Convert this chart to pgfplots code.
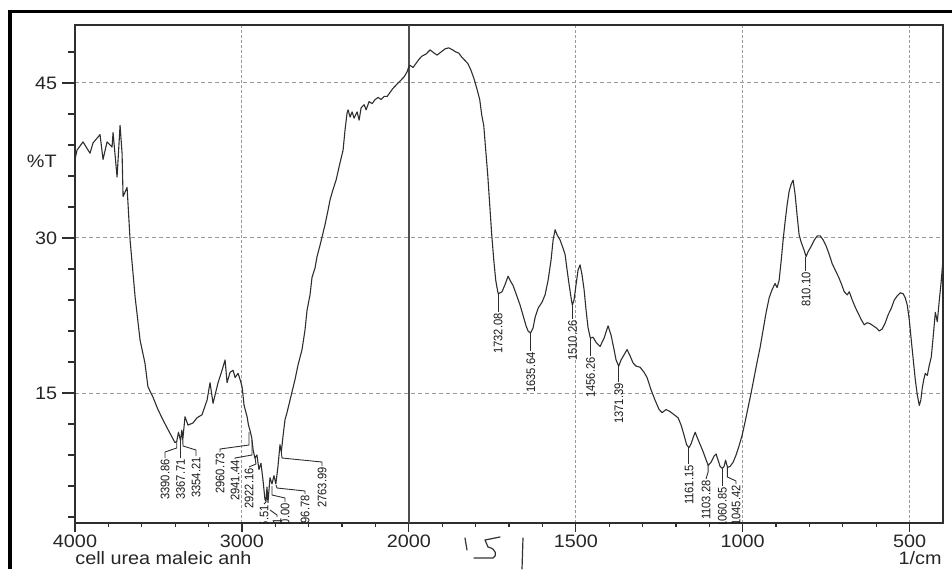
\documentclass[border=0pt]{standalone}
\usepackage{fontspec}
\setmainfont{Liberation Sans}
\newfontfamily\tickfont[FakeStretch=1.1]{Liberation Sans}
\newfontfamily\pkfont[FakeStretch=0.9]{Liberation Sans}
\usepackage{pgfplots}
\pgfplotsset{compat=1.18}
\usepackage{pgfplotstable}
\definecolor{ink}{HTML}{2E2E2E}
\definecolor{gridc}{HTML}{9A9A9A}

% IR spectrum, wavenumber (1/cm) vs %T
\pgfplotstableread{
wn T
4000 37.6
3988 38.5
3952 39.3
3910 38.2
3892 39.2
3850 40.0
3832 37.6
3808 39.3
3778 38.8
3772 40.2
3748 35.9
3730 40.9
3718 38.2
3712 34.0
3688 34.9
3670 29.8
3640 24.3
3610 20.1
3581 17.9
3563 15.6
3533 14.6
3503 13.4
3473 12.4
3431 11.1
3401 10.2
3390.86 10.3
3380 11.2
3367.71 10.4
3360 11.4
3354.21 10.5
3341 12.7
3323 11.9
3293 12.1
3269 12.6
3239 12.9
3209 14.3
3191 16.0
3173 14.0
3161 14.8
3143 16.0
3119 17.2
3101 18.2
3089 16.0
3071 17.0
3053 17.2
3041 16.5
3023 16.9
3011 16.3
2999 15.6
2987 13.8
2969 12.7
2960.73 11.9
2952 11.4
2941.44 10.7
2933 9.5
2922.16 8.7
2910 9.0
2898 7.6
2886 8.2
2874 6.6
2862 4.7
2855.51 4.5
2850 5.9
2844 4.4
2832 6.8
2820 6.2
2808 7.0
2796.78 6.2
2784 7.9
2772 10.0
2763.99 9.3
2754 10.8
2742 12.4
2730 13.1
2712 14.3
2694 15.5
2682 16.3
2664 17.7
2640 19.2
2622 21.1
2610 23.0
2592 24.5
2580 26.2
2562 27.1
2550 28.2
2532 29.3
2514 30.5
2502 31.3
2484 32.7
2472 33.7
2454 34.7
2436 35.6
2412 37.3
2394 38.5
2382 40.5
2370 42.1
2364 42.4
2352 41.7
2340 42.2
2328 41.6
2310 42.2
2298 41.4
2286 42.6
2268 42.9
2256 42.4
2238 43.2
2220 43.0
2202 43.4
2184 43.6
2166 43.4
2148 43.7
2130 43.7
2112 44.1
2094 44.5
2070 44.9
2046 45.3
2028 45.6
2010 46.1
2000 46.6
1996.4 46.7
1987.4 46.5
1978.4 46.9
1969.4 47.3
1960.5 47.6
1948.5 47.8
1936.5 48.2
1924.5 47.9
1915.5 47.7
1903.5 48.0
1891.5 48.3
1880.6 48.4
1868.6 48.2
1859.6 48.0
1850.6 47.9
1841.6 47.5
1832.6 47.2
1823.6 46.9
1814.7 46.3
1805.7 45.5
1796.7 44.5
1787.7 43.4
1781.7 41.9
1775.7 40.9
1769.7 38.5
1763.7 36.1
1757.7 33.2
1751.7 30.3
1745.7 27.9
1739.7 25.9
1733.7 24.8
1732.08 24.6
1720.8 24.8
1711.8 25.5
1702.8 26.3
1696.8 25.9
1687.8 25.4
1678.8 24.6
1666.8 23.5
1657.8 22.5
1648.9 21.5
1642.9 21.0
1635.64 20.8
1627.9 21.3
1621.9 22.3
1612.9 23.2
1600.9 23.8
1591.9 24.5
1582.9 25.9
1573.9 27.9
1567.9 29.8
1561.9 30.8
1555.9 30.3
1547.0 29.8
1538.0 29.0
1532.0 28.4
1526.0 26.9
1520.0 25.5
1514.0 24.2
1510.26 23.5
1505.1 24.0
1499.1 25.5
1493.1 26.9
1487.1 27.4
1481.1 26.4
1475.1 25.0
1469.1 23.0
1463.1 21.3
1456.26 20.3
1448.2 20.4
1439.2 19.9
1427.3 19.5
1415.3 20.3
1403.3 21.5
1394.3 20.6
1385.3 19.2
1379.3 18.2
1371.39 17.6
1364.3 18.2
1355.3 18.7
1346.3 19.2
1337.3 18.6
1328.3 17.9
1319.3 17.6
1307.4 17.5
1295.4 17.0
1286.4 16.5
1274.4 15.3
1262.4 14.3
1250.4 13.4
1241.4 13.1
1229.4 13.4
1217.5 13.2
1205.5 12.9
1193.5 12.6
1184.5 11.9
1175.5 10.9
1168 10.0
1161.15 9.7
1154.3 10.1
1148.3 10.7
1142.3 11.2
1136.3 10.7
1127.3 10.0
1118.3 9.3
1109.3 8.5
1103.28 8.0
1094.7 8.3
1085.7 8.9
1079.7 9.1
1073.7 8.5
1067.7 7.9
1060.85 7.7
1055.8 7.9
1051.3 8.5
1045.42 7.8
1037.7 7.9
1028.7 8.3
1019.8 9.0
1010.8 9.9
1001.8 10.9
992.8 12.2
983.8 13.6
974.8 15.0
965.8 16.5
956.8 18.0
947.8 19.4
938.8 21.1
929.8 22.8
920.8 24.2
911.9 25.0
902.9 25.6
896.9 25.2
890.9 25.9
884.9 27.7
878.9 29.8
872.9 31.6
866.9 33.2
860.9 34.5
854.9 35.2
848.9 35.6
842.9 34.2
836.9 32.2
830.9 30.3
824.9 29.6
815.9 28.8
810.10 28.2
803.7 28.7
794.7 29.2
785.7 29.8
776.7 30.2
767.7 30.2
758.7 29.8
749.7 29.2
740.7 28.4
731.7 27.5
722.8 26.9
713.8 26.3
704.8 25.6
695.8 24.8
686.8 24.5
680.8 24.8
671.8 24.0
662.8 23.3
653.8 22.7
644.8 22.1
635.9 21.6
626.9 21.8
617.9 21.7
608.9 21.5
599.9 21.3
590.9 21.0
581.9 21.2
572.9 21.8
563.9 22.6
554.9 23.2
545.9 24.0
537.0 24.4
528.0 24.7
519.0 24.6
513.0 24.2
507.0 23.5
501.0 22.1
495.0 20.1
489.0 18.2
483.0 16.3
477.0 14.8
471.0 13.8
466.5 14.3
462.0 15.5
457.5 16.3
453.0 16.9
447.0 16.7
441.0 17.7
435.0 18.5
429.0 20.6
423.0 22.8
417.0 21.9
411.0 24.0
405.1 25.9
400.6 27.7
}\spectrum

\begin{document}
\begin{tikzpicture}
\begin{axis}[
  scale only axis, width=434pt, height=249pt,
  at={(0,0)}, anchor=south west,
  xmin=0, xmax=5.2, ymin=2.42, ymax=50.61,
  x filter/.expression={x>=2000 ? (4000-x)/1000 : 2+(2000-x)/500},
  xtick={0,1,2,3,4,5}, xticklabels={4000,3000,2000,1500,1000,500},
  minor xtick={0.2,0.4,0.6,0.8,1.2,1.4,1.6,1.8,2.2,2.4,2.6,2.8,3.2,3.4,3.6,3.8,4.2,4.4,4.6,4.8},
  ytick={15,30,45}, minor ytick={3,6,9,12,18,21,24,27,33,36,39,42,48},
  xtick pos=bottom, ytick pos=left,
  tick align=outside,
  xtick style={ink, line width=0.6pt, /pgfplots/major tick length=4.5pt, /pgfplots/minor tick length=1.8pt},
  ytick style={ink, line width=0.6pt, /pgfplots/major tick length=6.5pt, /pgfplots/minor tick length=3.5pt},
  axis line style={ink, line width=0.8pt},
  xmajorgrids, ymajorgrids,
  major x grid style={gridc, line width=0.5pt, dash pattern=on 1.5pt off 1pt},
  major y grid style={gridc, line width=0.5pt, dash pattern=on 2pt off 1.5pt},
  /pgf/number format/assume math mode=true,
  xticklabel style={font=\tickfont\fontsize{9}{10}\selectfont, text=black!85, inner sep=0pt, anchor=north, yshift=-1.5pt},
  yticklabel style={font=\tickfont\fontsize{9}{10}\selectfont, text=black!85, inner sep=0pt, anchor=east, xshift=-4.5pt},
]
\draw[ink!85, line width=1pt] (axis cs:2,2.42) -- (axis cs:2,50.61);
\addplot[ink, line width=0.55pt, line join=round] table[x=wn, y=T] {\spectrum};
\end{axis}

% annotations in pixel units of the 952x569 reference
\begin{scope}[shift={(-37.5pt,261.5pt)}, x=0.5pt, y=-0.5pt]
  \begin{scope}
    \clip (75,25) rectangle (943,523);
    \tikzset{pk/.style={rotate=90, anchor=east, inner sep=0pt, text=black!90, font=\pkfont\fontsize{6.2}{7}\selectfont}}
    \begin{scope}[ink, line width=0.45pt]
      \draw (176.7,442) -- (176.7,448) -- (165,452) -- (165,458);
      \node[pk] at (165,459) {3390.86};
      \draw (180.6,441) -- (180.6,458);
      \node[pk] at (180.6,459) {3367.71};
      \draw (182.8,440) -- (183,446) -- (196,450) -- (196,456);
      \node[pk] at (196,457) {3354.21};
      \draw (249,432) -- (249,445) -- (220,449) -- (220,452);
      \node[pk] at (220,453) {2960.73};
      \draw (252,440) -- (252,455) -- (235,458) -- (235,459);
      \node[pk] at (235,460) {2941.44};
      \draw (255.1,458) -- (256,464) -- (249,467);
      \node[pk] at (249,468) {2922.16};
      \draw (266,502) -- (264,504);
      \node[pk] at (264,505) {2855.51};
      \draw (270,510) -- (277,515) -- (277,517);
      \node[pk] at (277,518) {2846.31};
      \draw (272,486) -- (272,495) -- (285,498) -- (285,502);
      \node[pk] at (285,503) {2810.00};
      \draw (276,485) -- (277,488) -- (305,491) -- (305,494);
      \node[pk] at (305,495) {2796.78};
      \draw (281.3,452) -- (282,458) -- (322,462) -- (322,466);
      \node[pk] at (322,467) {2763.99};
      \draw (498.2,294) -- (498.2,312);
      \node[pk] at (498.2,313) {1732.08};
      \draw (530.4,333) -- (530.4,351);
      \node[pk] at (530.8,352) {1635.64};
      \draw (572.3,305) -- (572.3,319);
      \node[pk] at (572.6,320) {1510.26};
      \draw (590.3,338) -- (590.3,356);
      \node[pk] at (590.6,357) {1456.26};
      \draw (618.6,366) -- (618.6,382);
      \node[pk] at (618.8,383) {1371.39};
      \draw (688.8,448) -- (688.8,464);
      \node[pk] at (689,465) {1161.15};
      \draw (708.1,465) -- (708.1,472) -- (706,479);
      \node[pk] at (706,480) {1103.28};
      \draw (722.3,468) -- (722.3,486);
      \node[pk] at (722.3,487) {1060.85};
      \draw (727.4,467) -- (727.4,477) -- (736,481) -- (736,484);
      \node[pk] at (736,485) {1045.42};
      \draw (805.9,257) -- (805.9,271);
      \node[pk] at (806,272) {810.10};
    \end{scope}
  \end{scope}
  \node[anchor=east, inner sep=0pt, text=black!85, font=\tickfont\fontsize{9}{10}\selectfont] at (57,161) {\%T};
  \node[anchor=base west, inner sep=0pt, text=black!85, font=\tickfont\fontsize{9}{10}\selectfont] at (75,564) {cell urea maleic anh};
  \node[anchor=base east, inner sep=0pt, text=black!85, font=\tickfont\fontsize{9}{10}\selectfont] at (942,564) {1/cm};
  % handwritten marks
  \draw[black!80, line width=0.6pt, line cap=round] (465,538) -- (467,550);
  \draw[black!80, line width=0.6pt, line cap=round, line join=round] (500,537) -- (485,540) -- (488,547) .. controls (497,549) and (497,556) .. (493,558) -- (474,558);
  \draw[black!80, line width=0.6pt, line cap=round] (523,538) -- (522,569);
  % outer frame
  \draw[black, line width=1.75pt] (10,569) -- (10,11.5) -- (952,11.5);
  \pgfresetboundingbox
  \path[use as bounding box] (0,0) rectangle (952,569);
\end{scope}
\end{tikzpicture}
\end{document}
